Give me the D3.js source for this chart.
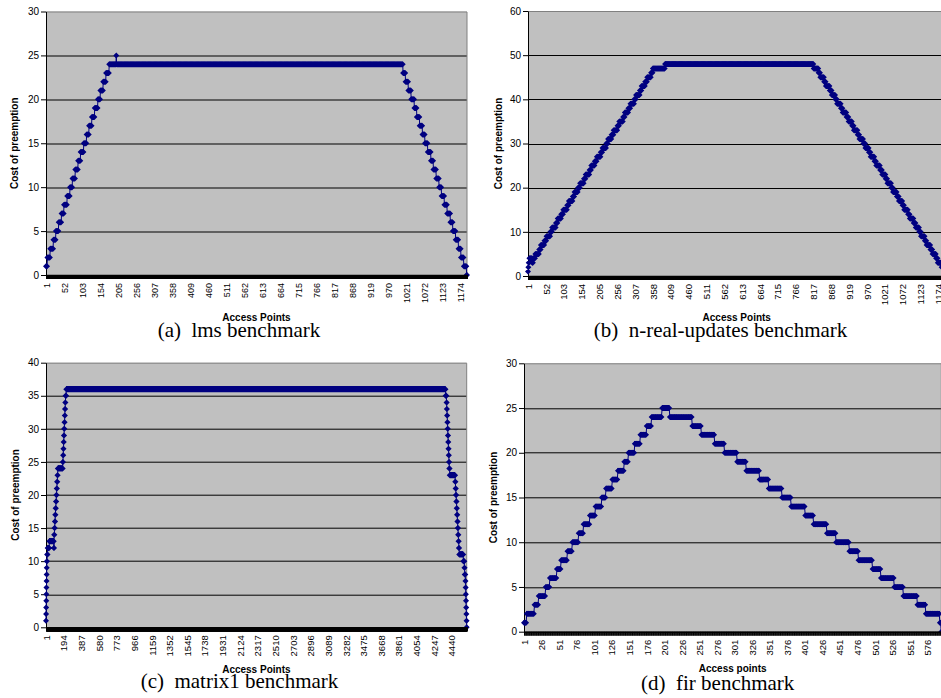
<!DOCTYPE html>
<html>
<head>
<meta charset="utf-8">
<script src="https://cdn.jsdelivr.net/npm/d3@7"></script>
<style>
  body { margin: 0; background: #fff; }
  svg { display: block; }
</style>
</head>
<body>
<script>
// runs of [cost, number of consecutive access points]

const lmsRuns = [
  [1,4],[2,8],[3,9],[4,7],[5,8],[6,8],[7,7],[8,9],[9,8],[10,7],[11,8],[12,8],
  [13,7],[14,9],[15,8],[16,7],[17,8],[18,8],[19,9],[20,7],[21,8],[22,8],[23,9],
  [24,20],[25,1],[24,811],
  [23,7],[22,8],[21,8],[20,9],[19,7],[18,8],[17,8],[16,7],[15,8],[14,9],[13,7],
  [12,8],[11,8],[10,7],[9,8],[8,8],[7,9],[6,7],[5,8],[4,8],[3,7],[2,8],[1,8],[0,2]
];

const realUpdatesRuns = [
  [1,1],[2,1],[3,2],[4,8],[3,3],[4,6],
  [5,11],[6,5],[7,10],[8,6],[9,11],[10,5],[11,11],[12,5],[13,10],[14,6],[15,11],[16,5],
  [17,11],[18,5],[19,10],[20,6],[21,11],[22,5],[23,11],[24,5],[25,10],[26,6],[27,11],[28,5],
  [29,11],[30,5],[31,10],[32,6],[33,11],[34,5],[35,11],[36,5],[37,10],[38,6],[39,11],[40,5],
  [41,11],[42,5],[43,10],[44,6],[45,11],[46,5],
  [47,35],[48,425],[47,14],
  [46,5],[45,11],[44,5],[43,11],[42,6],[41,10],[40,5],[39,11],[38,5],[37,11],[36,6],[35,10],
  [34,5],[33,11],[32,5],[31,11],[30,6],[29,10],[28,5],[27,11],[26,5],[25,11],[24,6],[23,10],
  [22,5],[21,11],[20,5],[19,11],[18,6],[17,10],[16,5],[15,11],[14,5],[13,11],[12,6],[11,10],
  [10,5],[9,11],[8,5],[7,11],[6,6],[5,10],[4,5],[3,11],[2,8],[1,4]
];

const matrix1Runs = [
  [1,1],[2,1],[3,1],[4,1],[5,1],[6,1],[7,1],[8,1],[9,1],[10,3],[11,6],[12,18],[13,50],[12,3],
  [14,4],[15,4],[16,4],[17,4],[18,4],[19,4],[20,4],[21,4],[22,4],[23,4],
  [24,55],[25,3],[26,3],[27,3],[28,3],[29,3],[30,3],[31,3],[32,3],[33,3],[34,3],[35,8],
  [36,4153],
  [35,10],[34,3],[33,3],[32,3],[31,3],[30,3],[29,3],[28,3],[27,3],[26,3],[25,3],[24,5],
  [23,60],[22,4],[21,4],[20,4],[19,4],[18,4],[17,4],[16,4],[15,4],[14,4],[13,4],[12,4],
  [11,45],[10,12],[9,3],[8,8],[7,2],[6,2],[5,2],[4,2],[3,2],[2,2],[1,2],[0,1]
];

const firRuns = [
  [1,4],[2,11],[3,6],[4,10],[5,6],[6,10],[7,6],[8,9],[9,7],[10,9],[11,7],[12,9],[13,8],
  [14,9],[15,6],[16,9],[17,8],[18,9],[19,6],[20,9],[21,8],[22,9],[23,7],[24,15],[25,11],
  [24,32],[23,13],[22,19],[21,14],[20,18],[19,13],[18,19],[17,13],[16,19],[15,13],[14,20],
  [13,12],[12,19],[11,13],[10,19],[9,13],[8,20],[7,12],[6,19],[5,13],[4,20],[3,12],[2,20],
  [1,2],[0,1]
];

const lmsLabels = [1,52,103,154,205,256,307,358,409,460,511,562,613,664,715,766,817,868,919,970,1021,1072,1123,1174];
const realUpdatesLabels = [1,52,103,154,205,256,307,358,409,460,511,562,613,664,715,766,817,868,919,970,1021,1072,1123,1174];
const matrix1Labels = [1,194,387,580,773,966,1159,1352,1545,1738,1931,2124,2317,2510,2703,2896,3089,3282,3475,3668,3861,4054,4247,4440];
const firLabels = [1,26,51,76,101,126,151,176,201,226,251,276,301,326,351,376,401,426,451,476,501,526,551,576];

const lmsYTicks = [0,5,10,15,20,25,30];
const realUpdatesYTicks = [0,10,20,30,40,50,60];
const matrix1YTicks = [0,5,10,15,20,25,30,35,40];
const firYTicks = [0,5,10,15,20,25,30];

const yTitle = "Cost of preemption";
const xTitles = ["Access Points", "Access Points", "Access Points", "Access points"];
const captions = ["(a)  lms benchmark", "(b)  n-real-updates benchmark", "(c)  matrix1 benchmark", "(d)  fir benchmark"];

const expand = runs => runs.flatMap(([v, n]) => Array(n).fill(v));

// where each of the four charts sits on the page
const panels = [
  {runs: lmsRuns, labels: lmsLabels, yTicks: lmsYTicks, left: 46, right: 467, top: 11.5, bottom: 275,
   yTitleX: 18.3, xTitleY: 320.5, capX: 239, capY: 336.5, xFont: 9},
  {runs: realUpdatesRuns, labels: realUpdatesLabels, yTicks: realUpdatesYTicks, left: 528, right: 945.5, top: 11, bottom: 276,
   yTitleX: 501.5, xTitleY: 320.5, capX: 720.5, capY: 336.5, xFont: 9.5},
  {runs: matrix1Runs, labels: matrix1Labels, yTicks: matrix1YTicks, left: 46, right: 466.7, top: 362.7, bottom: 627.3,
   yTitleX: 18.8, xTitleY: 672.5, capX: 239.5, capY: 688, xFont: 9.5},
  {runs: firRuns, labels: firLabels, yTicks: firYTicks, left: 524, right: 941.3, top: 363.3, bottom: 631.7,
   yTitleX: 496.5, xTitleY: 671.5, capX: 717.7, capY: 690, xFont: 9.5}
];

const svg = d3.select("body").append("svg")
  .attr("width", 941)
  .attr("height", 698);

svg.append("rect").attr("width", 941).attr("height", 698).attr("fill", "#fff");

const navy = "#000080";
const r = 3;

panels.forEach((p, k) => {
  const values = expand(p.runs);
  const n = values.length;
  const w = p.right - p.left, h = p.bottom - p.top;

  const g = svg.append("g").attr("transform", "translate(" + p.left + "," + p.top + ")");

  const x = d3.scalePoint().domain(d3.range(1, n + 1)).range([0, w]);
  const y = d3.scaleLinear().domain([0, p.yTicks[p.yTicks.length - 1]]).range([h, 0]);

  g.append("rect").attr("width", w).attr("height", h).attr("fill", "#c0c0c0");

  // gridlines
  g.append("g").selectAll("line")
    .data(p.yTicks.slice(1, -1))
    .join("line")
      .attr("x1", 0).attr("x2", w)
      .attr("y1", d => Math.round(y(d)) + 0.5)
      .attr("y2", d => Math.round(y(d)) + 0.5)
      .attr("stroke", "#000").attr("stroke-width", 1);

  g.append("path")
    .attr("d", "M0," + 0.5 + "H" + w + "V" + h)
    .attr("fill", "none").attr("stroke", "#808080");

  // y axis
  const ya = g.append("g").call(d3.axisLeft(y).tickValues(p.yTicks).tickSize(5).tickSizeOuter(0).tickPadding(2));
  ya.select(".domain").attr("stroke", "#000");
  ya.selectAll("text").attr("font-family", "Liberation Sans, Arial, sans-serif").attr("font-size", 10).attr("fill", "#000");

  // series line and diamond markers
  const line = d3.line().x((v, i) => x(i + 1)).y(v => y(v));
  g.append("path").attr("d", line(values)).attr("fill", "none").attr("stroke", navy).attr("stroke-width", 1);

  const diamonds = values.map((v, i) => {
    const cx = x(i + 1), cy = y(v);
    return "M" + cx + "," + (cy - r) + "L" + (cx + r) + "," + cy + "L" + cx + "," + (cy + r) + "L" + (cx - r) + "," + cy + "Z";
  }).join("");
  g.append("path").attr("d", diamonds).attr("fill", navy);

  // x axis: a tick for every access point, labels every few
  const xa = g.append("g").attr("transform", "translate(0," + h + ")")
    .call(d3.axisBottom(x).tickValues(x.domain()).tickSize(4).tickSizeOuter(0).tickFormat(""));
  xa.select(".domain").attr("stroke", "#000").attr("stroke-width", 1.5);
  xa.selectAll(".tick text").remove();

  const xl = g.append("g").attr("transform", "translate(0," + h + ")")
    .call(d3.axisBottom(x).tickValues(p.labels).tickSize(0));
  xl.select(".domain").remove();
  xl.selectAll("text")
    .attr("transform", "rotate(-90)")
    .attr("text-anchor", "end")
    .attr("x", -8).attr("y", 0).attr("dy", "0.35em")
    .attr("font-family", "Liberation Sans, Arial, sans-serif")
    .attr("font-size", p.xFont).attr("fill", "#000");

  // titles
  svg.append("text")
    .attr("transform", "translate(" + p.yTitleX + "," + (p.top + h / 2) + ") rotate(-90)")
    .attr("text-anchor", "middle")
    .attr("font-family", "Liberation Sans, Arial, sans-serif")
    .attr("font-weight", "bold").attr("font-size", 10)
    .text(yTitle);

  svg.append("text")
    .attr("x", p.left + w / 2).attr("y", p.xTitleY)
    .attr("text-anchor", "middle")
    .attr("font-family", "Liberation Sans, Arial, sans-serif")
    .attr("font-weight", "bold").attr("font-size", 10)
    .text(xTitles[k]);

  svg.append("text")
    .attr("x", p.capX).attr("y", p.capY)
    .attr("text-anchor", "middle")
    .attr("font-family", "Liberation Serif, Times New Roman, serif")
    .attr("font-size", 21)
    .style("white-space", "pre")
    .text(captions[k]);
});
</script>
</body>
</html>
